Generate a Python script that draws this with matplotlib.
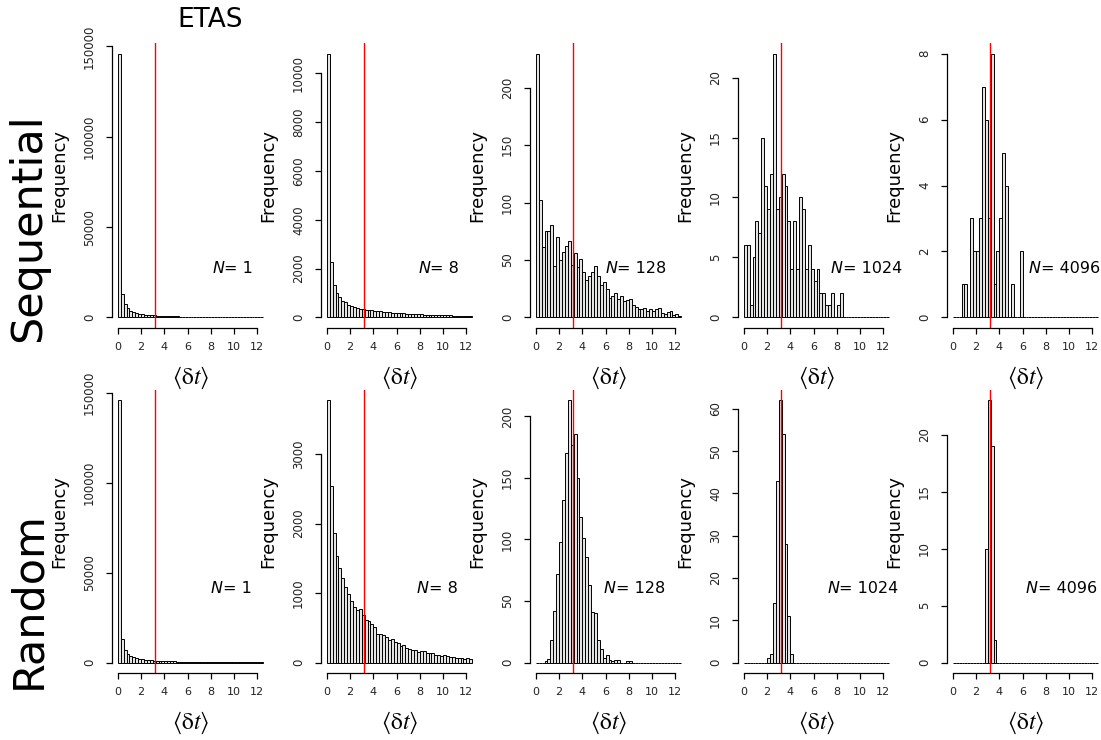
import numpy as np
import matplotlib.pyplot as plt

plt.rcParams['font.family'] = ['DejaVu Sans']
plt.rcParams['mathtext.fontset'] = 'stix'

# histogram breaks: 0 .. 12.5 in steps of 0.25
BIN_WIDTH = 0.25
MEAN_DT = 3.22
ROW_NAMES = ['Sequential', 'Random']
N_VALUES = [1, 8, 128, 1024, 4096]

# counts per bin (50 bins)
seq_n1 = [146000, 12900, 7200, 5000, 3800, 3000, 2500, 2100, 1800, 1600,
          1400, 1250, 1100, 1000, 900, 830, 760, 700, 640, 590,
          550, 510, 470, 440, 410, 380, 360, 340, 320, 300,
          280, 265, 250, 235, 220, 210, 200, 190, 180, 170,
          160, 155, 148, 140, 133, 127, 120, 115, 110, 105]
seq_n8 = [10800, 2260, 1330, 990, 820, 660, 620, 520, 480, 410,
          380, 350, 340, 320, 300, 290, 280, 260, 250, 230,
          220, 210, 200, 190, 180, 175, 165, 155, 150, 140,
          135, 130, 125, 120, 115, 110, 105, 100, 95, 90,
          88, 85, 80, 78, 75, 72, 70, 68, 65, 60]
seq_n128 = [230, 102, 61, 75, 75, 81, 45, 70, 50, 57,
            62, 67, 46, 56, 44, 51, 40, 33, 36, 40,
            45, 36, 28, 31, 25, 17, 19, 21, 16, 19,
            14, 15, 16, 11, 9, 7, 7, 8, 6, 7,
            6, 7, 8, 4, 3, 5, 6, 2, 3, 1]
seq_n1024 = [6, 6, 1, 5, 8, 7, 15, 11, 9, 12,
             22, 9, 10, 12, 11, 8, 4, 8, 4, 10,
             9, 4, 6, 4, 3, 4, 2, 2, 1, 1,
             2, 0, 1, 2, 0, 0, 0, 0, 0, 0,
             0, 0, 0, 0, 0, 0, 0, 0, 0, 0]
seq_n4096 = [0, 0, 0, 1, 1, 0, 3, 2, 2, 3,
             7, 6, 3, 8, 1, 2, 3, 5, 4, 0,
             1, 0, 0, 2, 0, 0, 0, 0, 0, 0,
             0, 0, 0, 0, 0, 0, 0, 0, 0, 0,
             0, 0, 0, 0, 0, 0, 0, 0, 0, 0]

rand_n1 = seq_n1  # N = 1 gives the same sample either way
rand_n8 = [3770, 2540, 1860, 1530, 1360, 1210, 1090, 980, 885, 800,
           755, 765, 680, 610, 600, 550, 515, 415, 415, 395,
           360, 325, 345, 300, 285, 240, 250, 215, 190, 180,
           180, 155, 165, 160, 135, 135, 130, 105, 105, 95,
           105, 95, 85, 80, 70, 65, 65, 55, 65, 55]
rand_n128 = [0, 0, 0, 1, 3, 18, 42, 72, 98, 132,
             170, 213, 177, 186, 150, 118, 101, 86, 63, 41,
             40, 18, 11, 4, 6, 2, 1, 2, 2, 0,
             0, 1, 1, 0, 0, 0, 0, 0, 0, 0,
             0, 0, 0, 0, 0, 0, 0, 0, 0, 0]
rand_n1024 = [0, 0, 0, 0, 0, 0, 0, 0, 1, 2,
              14, 43, 62, 54, 28, 11, 2, 0, 0, 0,
              0, 0, 0, 0, 0, 0, 0, 0, 0, 0,
              0, 0, 0, 0, 0, 0, 0, 0, 0, 0,
              0, 0, 0, 0, 0, 0, 0, 0, 0, 0]
rand_n4096 = [0, 0, 0, 0, 0, 0, 0, 0, 0, 0,
              0, 10, 23, 19, 2, 0, 0, 0, 0, 0,
              0, 0, 0, 0, 0, 0, 0, 0, 0, 0,
              0, 0, 0, 0, 0, 0, 0, 0, 0, 0,
              0, 0, 0, 0, 0, 0, 0, 0, 0, 0]

counts = [[seq_n1, seq_n8, seq_n128, seq_n1024, seq_n4096],
          [rand_n1, rand_n8, rand_n128, rand_n1024, rand_n4096]]
y_steps = [[50000, 2000, 50, 5, 2],
           [50000, 1000, 50, 10, 5]]

# layout in pixels (figure is 1101 x 740)
W, H = 1101, 740
col_left = [112, 321, 530, 738, 947]
ax_w = 157
row_top = [43, 390]
ax_h = [285, 283]
n_pos = [[(0.64, 0.21), (0.62, 0.21), (0.48, 0.21), (0.59, 0.21), (0.52, 0.21)],
         [(0.63, 0.30), (0.61, 0.30), (0.47, 0.30), (0.57, 0.30), (0.50, 0.30)]]

fig = plt.figure(figsize=(W / 100, H / 100), dpi=100)
edges = np.arange(0, 12.5 + BIN_WIDTH / 2, BIN_WIDTH)

for r in range(2):
    for c in range(5):
        rect = [col_left[c] / W, (H - row_top[r] - ax_h[r]) / H, ax_w / W, ax_h[r] / H]
        ax = fig.add_axes(rect)
        vals = counts[r][c]
        ax.bar(edges[:-1], vals, width=BIN_WIDTH, align='edge',
               facecolor='#e4e4e4', edgecolor='black', linewidth=0.7)
        ax.axvline(MEAN_DT, color='red', linewidth=1.0)

        # R style: 4% padding, ticks only inside the padded range
        ymax = max(vals)
        ax.set_xlim(-0.5, 13.0)
        ax.set_ylim(-0.04 * ymax, 1.04 * ymax)
        step = y_steps[r][c]
        ytop = (1.04 * ymax // step) * step
        ax.set_yticks(np.arange(0, ytop + step / 2, step))
        ax.set_xticks(np.arange(0, 13, 2))

        for s in ['top', 'right']:
            ax.spines[s].set_visible(False)
        ax.spines['left'].set_bounds(0, ytop)
        ax.spines['bottom'].set_bounds(0, 12)
        ax.spines['left'].set_linewidth(0.9)
        ax.spines['bottom'].set_linewidth(0.9)
        ax.tick_params(direction='out', length=4.5, width=0.9,
                       labelcolor='#222222')
        ax.tick_params(axis='x', labelsize=8, pad=5.5)
        ax.tick_params(axis='y', labelsize=8.5, pad=7, labelrotation=90)
        for lab in ax.get_yticklabels():
            lab.set_va('center')

        ax.set_ylabel('Frequency', fontsize=13)
        ax.yaxis.set_label_coords(-0.28, 0.535)
        ax.set_xlabel(r'$\langle\mathrm{\delta}t\rangle$', fontsize=17, labelpad=9)

        fx, fy = n_pos[r][c]
        t = ax.text(fx, fy, 'N', style='italic', fontsize=11.5,
                    transform=ax.transAxes, ha='left', va='center')
        ax.annotate(f'= {N_VALUES[c]}', xy=(1, 0), xycoords=t,
                    ha='left', va='bottom', fontsize=11.5)

fig.text(210 / W, 1 - 20 / H, 'ETAS', fontsize=19, ha='center', va='center')
fig.text(28 / W, 1 - 228 / H, ROW_NAMES[0], fontsize=31, rotation=90,
         ha='center', va='center')
fig.text(28 / W, 1 - 600 / H, ROW_NAMES[1], fontsize=31, rotation=90,
         ha='center', va='center')

fig.savefig('out.png', dpi=100)
